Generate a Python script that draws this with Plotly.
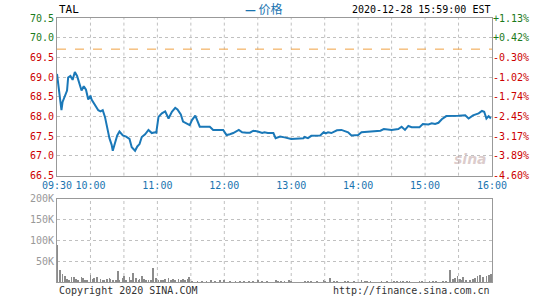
import plotly.graph_objects as go

# ---------------- data ----------------
symbol = "TAL"
timestamp = "2020-12-28 15:59:00 EST"
prev_close = 69.71

# minutes since 09:30 and price
price_minute = [0, 1, 3, 4, 5, 7, 9, 10, 12, 14, 16, 18, 20, 22, 24, 26, 28, 30, 31, 34,
                37, 39, 41, 43, 45, 47, 49, 50, 52, 54, 56, 59, 62, 65, 67, 70, 72, 74, 76, 79,
                82, 85, 88, 89, 91, 94, 97, 100, 103, 106, 108, 111, 113, 116, 119, 121, 124, 125, 128, 137,
                140, 149, 152, 155, 158, 163, 166, 170, 173, 176, 180, 184, 186, 189, 194, 196, 200, 204, 210, 221,
                222, 225, 228, 236, 239, 241, 243, 246, 251, 255, 258, 261, 264, 270, 273, 285, 290, 293, 300, 306,
                309, 312, 315, 318, 325, 328, 333, 336, 339, 342, 345, 349, 354, 360, 366, 369, 373, 378, 381, 383,
                385, 387, 389]
price_value = [69.08, 68.83, 68.45, 68.16, 68.37, 68.53, 68.66, 68.99, 69.03, 68.93, 69.13, 69.03, 68.87, 68.66, 68.77, 68.68, 68.43, 68.53, 68.43, 68.28,
               68.16, 68.13, 68.16, 67.99, 67.70, 67.45, 67.28, 67.13, 67.33, 67.52, 67.62, 67.52, 67.49, 67.43, 67.22, 67.13, 67.24, 67.30, 67.48, 67.55,
               67.66, 67.58, 67.60, 67.59, 67.99, 68.08, 68.13, 67.95, 68.12, 68.22, 68.18, 68.05, 67.87, 67.83, 67.78, 67.91, 68.02, 67.95, 67.74, 67.74,
               67.66, 67.66, 67.53, 67.55, 67.58, 67.66, 67.60, 67.59, 67.59, 67.64, 67.62, 67.58, 67.60, 67.58, 67.58, 67.45, 67.49, 67.47, 67.43, 67.45,
               67.48, 67.45, 67.51, 67.52, 67.60, 67.57, 67.60, 67.58, 67.65, 67.66, 67.63, 67.60, 67.52, 67.53, 67.60, 67.62, 67.64, 67.68, 67.66, 67.68,
               67.74, 67.66, 67.76, 67.73, 67.73, 67.81, 67.80, 67.83, 67.81, 67.84, 67.93, 68.01, 68.01, 68.02, 68.03, 67.95, 68.03, 68.08, 68.14, 68.12,
               67.95, 68.01, 67.95]

vol_minute = [0, 3, 5, 7, 9, 11, 13, 15, 17, 19, 22, 23, 25, 27, 30, 32, 33, 36, 39, 41,
              42, 45, 47, 48, 50, 53, 55, 56, 59, 60, 62, 65, 66, 68, 71, 73, 74, 76, 78, 80,
              82, 84, 86, 89, 91, 93, 95, 97, 100, 102, 104, 106, 109, 111, 113, 115, 117, 118, 121, 126,
              130, 134, 138, 142, 146, 150, 155, 160, 164, 168, 172, 176, 180, 184, 188, 196, 198, 201, 204, 208,
              210, 222, 225, 228, 233, 239, 240, 245, 248, 251, 258, 261, 266, 273, 276, 278, 281, 291, 296, 302,
              305, 308, 310, 314, 316, 325, 327, 334, 337, 340, 346, 349, 352, 355, 357, 359, 361, 363, 364, 367,
              370, 373, 375, 377, 379, 382, 385, 387, 389]
vol_value = [90000, 28000, 20000, 13500, 8000, 5000, 12000, 12000, 8000, 6000, 12000, 10000, 5000, 5000, 18000, 8000, 9500, 12000, 8000, 5000,
             5000, 8000, 10000, 8000, 5000, 4000, 26000, 5000, 10000, 13500, 4000, 12000, 5000, 21000, 10000, 5000, 8000, 13500, 8000, 4000,
             4000, 5000, 33000, 10000, 5000, 5000, 5000, 8000, 10000, 5000, 8000, 5000, 8000, 5000, 8000, 5000, 8000, 12000, 3000, 3000,
             2500, 3000, 5000, 2500, 5000, 5000, 3000, 2500, 3000, 2500, 3000, 2500, 5000, 3000, 2500, 6000, 3000, 2500, 3000, 5000,
             3000, 3000, 2500, 3000, 2500, 5000, 3000, 9000, 3000, 2500, 3000, 2500, 3000, 5000, 3000, 2500, 3000, 2500, 3000, 2500,
             3000, 2500, 3000, 2500, 3000, 3000, 2500, 3000, 2500, 3000, 2500, 3000, 29000, 8000, 10000, 13500, 8000, 5000, 12000, 4000,
             5000, 8000, 10000, 13500, 18000, 12000, 13500, 16000, 20000]

price_ticks = [66.5, 67.0, 67.5, 68.0, 68.5, 69.0, 69.5, 70.0, 70.5]
time_tick_min = [0, 30, 90, 150, 210, 270, 330, 390]
time_tick_lbl = ["09:30", "10:00", "11:00", "12:00", "13:00", "14:00", "15:00", "16:00"]
grid_min = [30, 60, 90, 120, 150, 180, 210, 240, 270, 300, 330, 360]
vol_ticks = [50000, 100000, 150000, 200000]
vol_tick_lbl = ["50K", "100K", "150K", "200K"]

# ---------------- style ----------------
MONO = "DejaVu Sans Mono"
GREEN = "#1b7a1b"
RED = "#cc0000"
BLUE = "#1a74b0"
LINE = "#1a78b8"
GRID = "#c0c0c0"
AX = "#999999"


def price_lbl(v):
    c = GREEN if v >= prev_close else RED
    return f"<span style='color:{c}'>{v:.1f}</span>"


def pct_lbl(v):
    p = (v / prev_close - 1) * 100
    c = GREEN if v >= prev_close else RED
    return f"<span style='color:{c}'>{p:+.2f}%</span>"


fig = go.Figure()

fig.add_trace(go.Scatter(x=price_minute, y=price_value, mode="lines",
                         line=dict(color=LINE, width=2), xaxis="x", yaxis="y",
                         hoverinfo="skip", showlegend=False))
# invisible trace for the right-hand percent axis
fig.add_trace(go.Scatter(x=[0, 390], y=[66.5, 70.5], mode="lines", line=dict(width=0),
                         opacity=0, xaxis="x", yaxis="y3", hoverinfo="skip", showlegend=False))
fig.add_trace(go.Bar(x=vol_minute, y=vol_value, width=0.7, marker=dict(color="#8c8c8c", line=dict(width=0)),
                     xaxis="x2", yaxis="y2", hoverinfo="skip", showlegend=False))

# previous close line
fig.add_shape(type="line", xref="x", yref="y", x0=0, x1=390, y0=prev_close, y1=prev_close,
              line=dict(color="#f0a040", width=1, dash="dash"))

# vertical grid (every 30 minutes) on both panels
for m in grid_min:
    for yr in ("y", "y2"):
        fig.add_shape(type="line", xref="x" if yr == "y" else "x2", yref=f"{yr} domain",
                      x0=m, x1=m, y0=0, y1=1, line=dict(color=GRID, width=1, dash="dot"), layer="below")

tick_font = dict(family=MONO, size=10)

fig.update_layout(
    width=545, height=300,
    margin=dict(l=57, r=53, t=18, b=14),
    paper_bgcolor="white", plot_bgcolor="white",
    bargap=0,
    xaxis=dict(domain=[0, 1], range=[0, 390], anchor="y", tickmode="array",
               tickvals=time_tick_min, ticktext=time_tick_lbl, showgrid=False,
               tickfont=dict(family=MONO, size=10, color=BLUE), ticks="",
               showline=True, linecolor=AX, mirror=True, zeroline=False, fixedrange=True),
    yaxis=dict(domain=[0.403, 1], range=[66.5, 70.5], tickmode="array", tickvals=price_ticks,
               ticktext=[price_lbl(v) for v in price_ticks], tickfont=tick_font, ticks="",
               showgrid=True, gridcolor=GRID, griddash="dot", gridwidth=1,
               showline=True, linecolor=AX, mirror=True, zeroline=False),
    yaxis3=dict(overlaying="y", side="right", anchor="x", range=[66.5, 70.5], tickmode="array",
                tickvals=price_ticks, ticktext=[pct_lbl(v) for v in price_ticks],
                tickfont=tick_font, ticks="", showgrid=False, showline=False, zeroline=False),
    xaxis2=dict(domain=[0, 1], range=[0, 390], anchor="y2", showticklabels=False, ticks="",
                showgrid=False, showline=True, linecolor=AX, mirror=True, zeroline=False),
    yaxis2=dict(domain=[0, 0.3146], range=[0, 200000], tickmode="array", tickvals=vol_ticks,
                ticktext=vol_tick_lbl, tickfont=dict(family=MONO, size=10, color="#999999"), ticks="",
                showgrid=True, gridcolor=GRID, griddash="dot", gridwidth=1,
                showline=True, linecolor=AX, mirror=True, zeroline=False),
    annotations=[
        dict(text=symbol, xref="paper", yref="paper", x=0, y=1, yshift=9, xanchor="left", yanchor="middle",
             showarrow=False, font=dict(family=MONO, size=11, color="black")),
        dict(text="<b>—</b> 价格", xref="paper", yref="paper", x=0.475, y=1, yshift=10, xanchor="center",
             yanchor="middle", showarrow=False,
             font=dict(family="Noto Sans CJK SC", size=12, color=BLUE)),
        dict(text=timestamp, xref="paper", yref="paper", x=1, y=1, yshift=9, xanchor="right", yanchor="middle",
             showarrow=False, font=dict(family=MONO, size=10, color="black")),
        dict(text="Copyright 2020 SINA.COM", xref="paper", yref="paper", x=0, y=0, yshift=-1,
             xanchor="left", yanchor="top", showarrow=False, font=dict(family=MONO, size=10, color="#333333")),
        dict(text="http://finance.sina.com.cn", xref="paper", yref="paper", x=1, y=0, yshift=-1,
             xanchor="right", yanchor="top", showarrow=False, font=dict(family=MONO, size=10, color="#333333")),
        dict(text="<i><b>sina</b></i>", xref="x", yref="y", x=371, y=66.93, xanchor="center", yanchor="middle",
             showarrow=False, font=dict(family="DejaVu Sans", size=14, color="rgba(190,160,160,0.55)")),
    ],
)

fig.write_html("out.html")
